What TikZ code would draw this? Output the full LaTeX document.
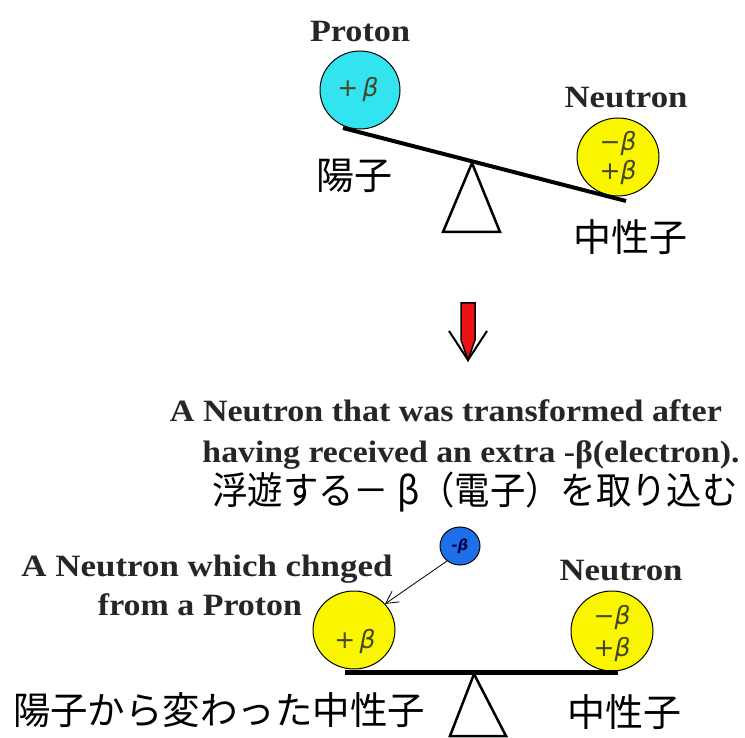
\documentclass[tikz,border=0pt]{standalone}
\usepackage{fontspec}
\usepackage{graphicx}
\setmainfont{Liberation Serif}
\newfontfamily\cjk{Noto Sans CJK JP}
\newfontfamily\symf{DejaVu Sans}
\usetikzlibrary{arrows.meta,shapes.geometric}
\definecolor{cyanball}{RGB}{51,228,240}
\definecolor{yellball}{RGB}{250,246,0}
\definecolor{blueball}{RGB}{30,112,232}
\definecolor{balltext}{RGB}{70,70,40}
\definecolor{arrowred}{RGB}{235,20,20}
\tikzset{
  en/.style={font=\fontsize{31}{34}\selectfont\bfseries, inner sep=0pt, anchor=base, text=black!85},
  jp/.style={font=\cjk\fontsize{38}{40}\selectfont, inner sep=0pt},
  ball/.style={ellipse, draw=black, line width=1pt, inner sep=0pt},
  bt/.style={font=\symf\itshape\fontsize{25}{27}\selectfont, text=balltext, inner sep=0pt},
  beam/.style={line width=4pt},
  fulcrum/.style={line width=2.5pt, line join=miter}
}
\begin{document}
\begin{tikzpicture}[x=1pt,y=-1pt]
\useasboundingbox[fill=white] (0,0) rectangle (745,738);

% ---------- top balance ----------
\node[en] (proton) at (360,42) {\resizebox{100pt}{\height}{Proton}};
\node[ball, fill=cyanball, minimum width=80, minimum height=78] (pb) at (360,90) {};
\node[bt] (pbt) at (358,90) {+\,β};

\node[en] (neutron1) at (626,108) {\resizebox{123pt}{\height}{Neutron}};
\node[ball, fill=yellball, minimum width=82, minimum height=78] (nb1) at (618,157) {};
\node[bt] (nb1a) at (618,144) {−β};
\node[bt] (nb1b) at (618,173) {+β};

\coordinate (b1l) at (343,128);
\coordinate (b1r) at (626,201);
\draw[beam] (b1l) -- (b1r);
\coordinate (f1t) at (472,163);
\coordinate (f1l) at (443,232);
\coordinate (f1r) at (500,232);
\draw[fulcrum] (f1t) -- (f1l) -- (f1r) -- cycle;

\node[jp] (yoshi1) at (354,176) {陽子};
\node[jp] (chu1) at (630,237) {中性子};

% ---------- red arrow ----------
\coordinate (ra1) at (461,303);
\coordinate (ra2) at (475,303);
\coordinate (ra3) at (475,340);
\coordinate (ratip) at (468,360);
\coordinate (ra4) at (461,340);
\coordinate (raw1) at (449,331);
\coordinate (raw2) at (487,331);
\draw[fill=arrowred, line width=1.5pt, line join=miter] (ra1) -- (ra2) -- (ra3) -- (ratip) -- (ra4) -- cycle;
\draw[line width=2pt] (raw1) -- (ratip) -- (raw2);

% ---------- texts ----------
\node[en] (l1) at (446,421) {\resizebox{552pt}{\height}{A Neutron that was transformed after}};
\node[en] (l2) at (471,462) {\resizebox{537pt}{\height}{having received an extra -β(electron).}};
\node[jp, anchor=center] (l3) at (475,492) {\resizebox{525pt}{\height}{浮遊する－ β（電子）を取り込む}};

\node[en] (chg1) at (207,576) {\resizebox{371pt}{\height}{A Neutron which chnged}};
\node[en] (chg2) at (200,615) {\resizebox{204pt}{\height}{from a Proton}};
\node[en] (neutron2) at (621,580) {\resizebox{123pt}{\height}{Neutron}};

% ---------- bottom balance ----------
\node[ball, fill=blueball, minimum width=40, minimum height=38] (el) at (460,546) {};
\node[font=\symf\bfseries\itshape\fontsize{15}{16}\selectfont, text=blue!30!black, inner sep=0pt] (elt) at (460,546) {-β};

\node[ball, fill=yellball, minimum width=82, minimum height=78] (nl) at (354,630) {};
\node[bt] (nlt) at (355,642) {+\,β};

\node[ball, fill=yellball, minimum width=82, minimum height=80] (nr) at (612,631) {};
\node[bt] (nra) at (612,618) {−β};
\node[bt] (nrb) at (612,650) {+β};

\draw[line width=0.8pt, -{Straight Barb[length=12pt,width=13pt]}] (el.229) -- (nl.40);

\coordinate (b2l) at (345,672);
\coordinate (b2r) at (618,672);
\draw[line width=5pt] (b2l) -- (b2r);
\coordinate (f2t) at (474,674);
\coordinate (f2l) at (450,736);
\coordinate (f2r) at (506,736);
\draw[fulcrum] (f2t) -- (f2l) -- (f2r) -- cycle;

\node[jp] (yoshi2) at (219,710) {\resizebox{412pt}{\height}{陽子から変わった中性子}};
\node[jp] (chu2) at (624,712) {中性子};
\end{tikzpicture}
\end{document}
